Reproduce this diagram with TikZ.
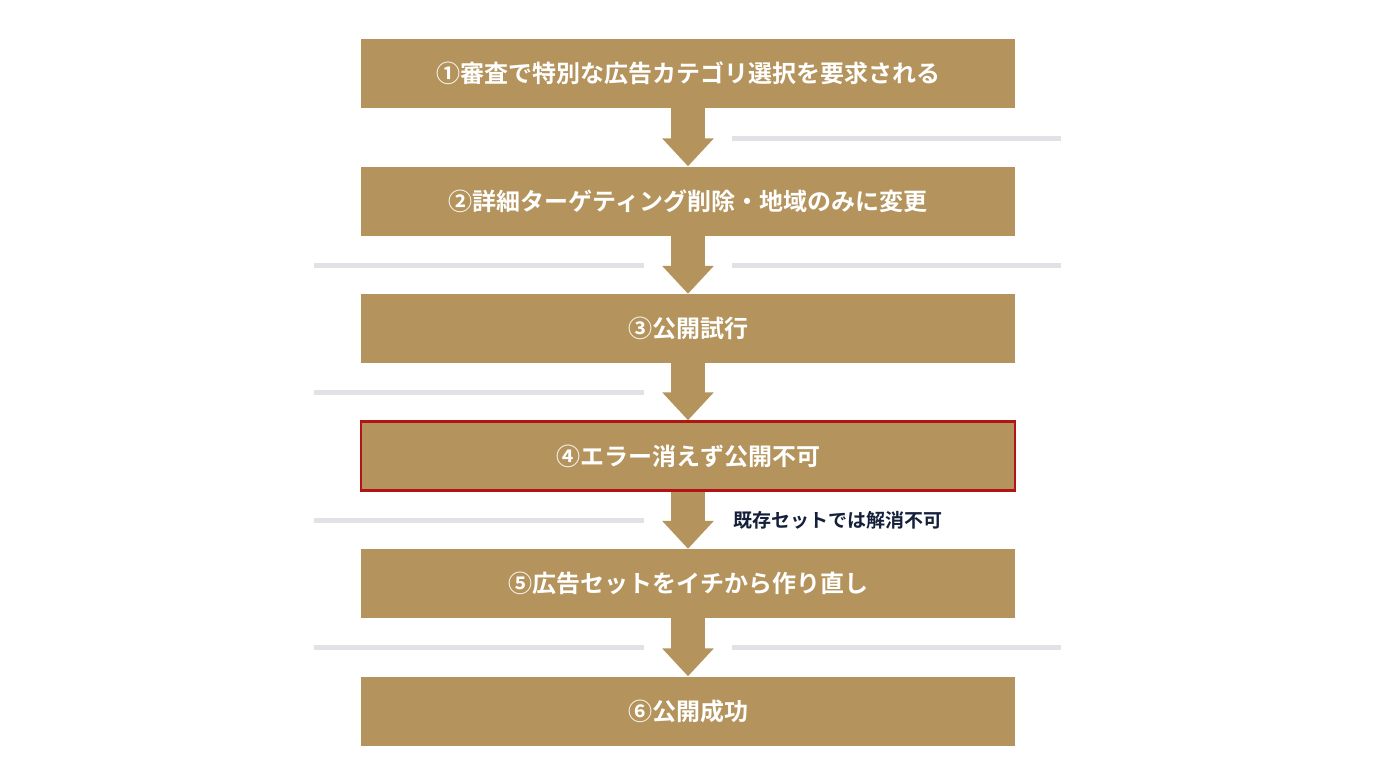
\documentclass[tikz,border=0pt]{standalone}
\usepackage{fontspec}
\setmainfont{Noto Sans CJK JP}[BoldFont={Noto Sans CJK JP Bold}]
\usetikzlibrary{arrows.meta}
\definecolor{gold}{HTML}{B4945C}
\definecolor{redb}{HTML}{B01414}
\definecolor{lgray}{HTML}{E0E2E8}
\definecolor{navy}{HTML}{14203A}
\tikzset{
 box/.style={fill=gold,minimum width=654pt,minimum height=69pt,inner sep=0pt,text=white,font=\fontsize{24pt}{28pt}\selectfont\bfseries},
 flow/.style={gold,line width=34pt,-{Triangle[width=50pt,length=28pt]}},
 deco/.style={lgray,line width=5pt}
}
\begin{document}
\begin{tikzpicture}[x=1pt,y=-1pt]
\useasboundingbox (0,0) rectangle (1376,768);
\foreach \a/\b/\y in {732/1061/138,314/644/265,732/1061/265,314/644/392,314/644/520,314/644/647,732/1061/647}
  \draw[deco] (\a,\y) -- (\b,\y);
\node[box] (b1) at (688,73.5) {①審査で特別な広告カテゴリ選択を要求される};
\node[box] (b2) at (688,201) {②詳細ターゲティング削除・地域のみに変更};
\node[box] (b3) at (688,328.5) {③公開試行};
\node[box,draw=redb,line width=2.5pt] (b4) at (688,456) {④エラー消えず公開不可};
\node[box] (b5) at (688,583.5) {⑤広告セットをイチから作り直し};
\node[box] (b6) at (688,711) {⑥公開成功};
\draw[flow] (b1.south) -- (b2.north);
\draw[flow] (b2.south) -- (b3.north);
\draw[flow] (b3.south) -- (b4.north);
\draw[flow] (b4.south) -- (b5.north);
\draw[flow] (b5.south) -- (b6.north);
\node[anchor=west,text=navy,font=\fontsize{19pt}{22pt}\selectfont\bfseries] (lab) at (730,520) {既存セットでは解消不可};
\end{tikzpicture}
\end{document}
